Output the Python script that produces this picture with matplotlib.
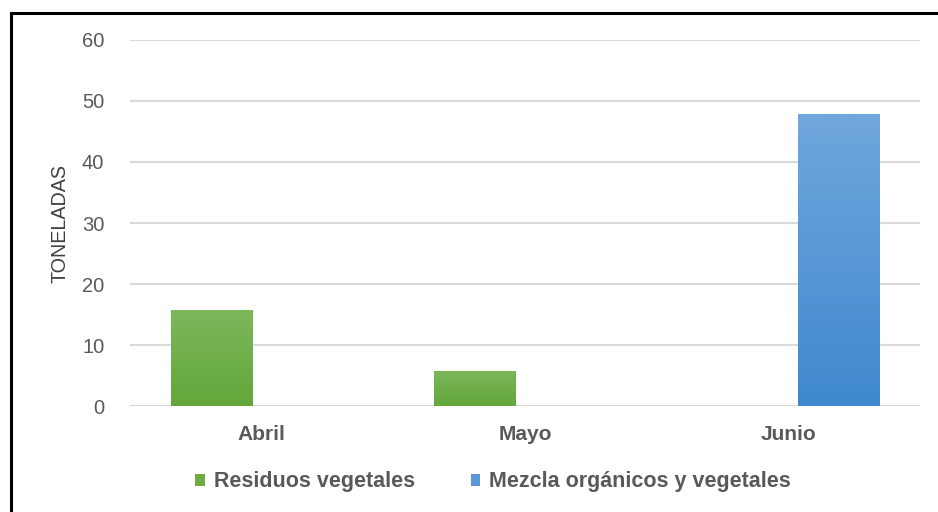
import matplotlib
matplotlib.use("Agg")
import matplotlib.pyplot as plt
import numpy as np
from matplotlib.lines import Line2D
from matplotlib.colors import LinearSegmentedColormap
from matplotlib import font_manager

months = ["Abril", "Mayo", "Junio"]
residuos = [15.8, 5.8, 0]
mezcla = [0, 0, 47.8]

plt.rcParams['font.family'] = ['Liberation Sans', 'DejaVu Sans']

names = {f.name for f in font_manager.fontManager.ttflist}
narrow = 'Liberation Sans Narrow' if 'Liberation Sans Narrow' in names else 'Liberation Sans'

fig = plt.figure(figsize=(9.38, 5.12), dpi=100)
ax = fig.add_axes([0.1386, 0.207, 0.8422, 0.7149])

x = np.arange(len(months))
w = 0.31
b1 = ax.bar(x - 0.19, residuos, w, color="#6DAC43", label="Residuos vegetales", zorder=3)
b2 = ax.bar(x + 0.19, mezcla, w, color="#5698D8", label="Mezcla orgánicos y vegetales", zorder=3)

# vertical gradient inside each bar
grad = np.linspace(0, 1, 256).reshape(-1, 1)
for bars, lo, hi in [(b1, "#63A63A", "#7CB85B"), (b2, "#3F88CE", "#70A7DD")]:
    cmap = LinearSegmentedColormap.from_list("g", [lo, hi])
    for b in bars:
        h = b.get_height()
        if h <= 0:
            continue
        im = ax.imshow(grad, extent=[b.get_x(), b.get_x() + b.get_width(), 0, h],
                       origin="lower", aspect="auto", cmap=cmap, zorder=4)
        im.set_clip_path(b)

ax.set_xlim(-0.5, 2.5)
ax.set_ylim(0, 60)
ax.set_yticks(range(0, 61, 10))
ax.set_xticks(x)
ax.set_xticklabels(months, fontsize=15, fontweight="bold", color="#595959")
ax.tick_params(axis="y", labelsize=14.5, colors="#595959", length=0, pad=18.5)
ax.tick_params(axis="x", length=0, pad=14)
ax.yaxis.grid(True, color="#D9D9D9", linewidth=1.5, zorder=0)
for s in ax.spines.values():
    s.set_visible(False)

ax.set_ylabel("TONELADAS", fontsize=14.2 if narrow == 'Liberation Sans' else 15,
              color="#404040", family=[narrow, 'DejaVu Sans'])
ax.yaxis.set_label_coords(-0.077, 0.50)

fig.legend(loc="center", bbox_to_anchor=(0.5256, 0.0586), ncol=2, frameon=False,
           prop={"size": 15.5, "weight": "bold"}, labelcolor="#595959",
           handlelength=0.45, handleheight=0.45, handletextpad=0.4, columnspacing=2.6)

# frame lines on top and left
fig.add_artist(Line2D([0.0117, 1.0], [0.9746, 0.9746], color="black", lw=2.2))
fig.add_artist(Line2D([0.0117, 0.0117], [0.0, 0.9746], color="black", lw=2.2))

fig.savefig("out.png", dpi=100)
